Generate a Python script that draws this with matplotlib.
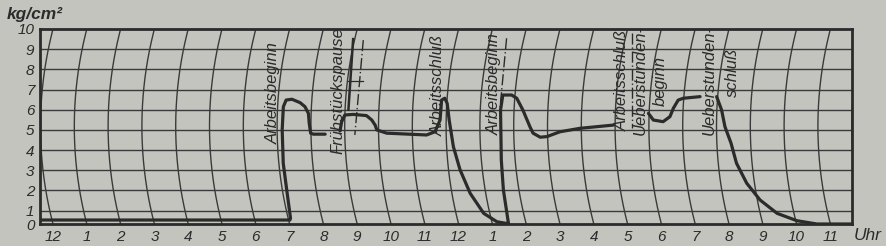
import numpy as np
import matplotlib
matplotlib.use('Agg')
import matplotlib.pyplot as plt

# Druckschreiber: Uhrzeit in Stunden ab Mitternacht, Druck in kg/cm2
t_morgen = [-0.6, 7.04, 7.07, 7.13, 7.13, 7.15, 7.17, 7.24, 7.41, 7.66, 7.81, 7.92, 7.95, 7.99, 8.07, 8.42]
p_morgen = [0.3, 0.3, 0.43, 2.03, 3.35, 5.0, 6.15, 6.48, 6.52, 6.35, 6.15, 5.82, 5.33, 4.84, 4.79, 4.79]

t_tag = [8.86, 8.91, 9.00, 9.25, 9.64, 9.80, 9.90, 9.95, 10.24, 11.42, 11.67, 11.82, 11.84, 11.93,
         12.01, 12.09, 12.20, 12.34, 12.54, 12.82, 13.15, 13.45, 13.48, 13.54, 13.59, 13.60, 13.64,
         13.90, 14.06, 14.26, 14.48, 14.57, 14.78, 14.98, 15.37, 15.96, 16.95]
p_tag = [4.95, 5.41, 5.74, 5.77, 5.71, 5.49, 5.24, 5.0, 4.84, 4.75, 4.91, 5.49, 6.48, 6.57,
         6.32, 5.49, 4.17, 3.03, 1.86, 0.80, 0.17, 0.03, 0.05, 2.03, 3.51, 5.99, 6.73,
         6.73, 6.57, 5.99, 5.16, 4.84, 4.64, 4.67, 4.91, 5.08, 5.24]

t_ueber = [17.98, 18.13, 18.42, 18.62, 18.71, 18.84, 18.99, 19.48]
p_ueber = [5.82, 5.49, 5.41, 5.66, 6.07, 6.48, 6.57, 6.65]

t_abend = [19.97, 20.14, 20.25, 20.42, 20.54, 20.77, 21.08, 21.50, 22.03, 22.6, 24.5]
p_abend = [6.65, 5.99, 5.16, 4.34, 3.35, 2.36, 1.53, 0.80, 0.25, 0.0, 0.0]

stunden = list(range(24))
stunden_text = ['12'] + [str(h) for h in range(1, 12)] + ['12'] + [str(h) for h in range(1, 12)]
druck_ticks = list(range(11))

papier = '#c4c4bf'
tinte = '#2b2b2b'
schrift = ['Liberation Sans Narrow', 'Liberation Sans', 'DejaVu Sans']


def pos(p):
    # Skala ist unter 1 kg/cm2 gestaucht
    p = np.asarray(p, float)
    return np.where(p >= 1, p, 1 - (1 - p) * 0.66)


def inv(u):
    u = np.asarray(u, float)
    return np.where(u >= 1, u, 1 - (1 - u) / 0.66)


def bogen(p):
    # Zeitlinien sind Kreisbogen (Schreibarm)
    b = (pos(p) - pos(0)) * 20.19
    r = (97.5 ** 2 + 12.5 ** 2) / 25
    return (np.sqrt(r ** 2 - (b - 97.5) ** 2) - (r - 12.5)) / 33.8


fig = plt.figure(figsize=(8.86, 2.46), dpi=100, facecolor=papier)
ax = fig.add_axes([40 / 886, 22 / 246, 812 / 886, 195 / 246], facecolor=papier)
ax.set_yscale('function', functions=(pos, inv))
ax.set_ylim(0, 10)
ax.set_xlim((40 - 53) / 33.8, (852 - 53) / 33.8)

# Raster
for k in range(1, 10):
    ax.axhline(k, color='#3a3a3a', lw=1.0, zorder=1)
pp = np.linspace(0, 10, 200)
for h in range(-1, 26):
    ax.plot(h - bogen(pp), pp, color='#3a3a3a', lw=1.0, zorder=1)

# Schreibspur
for t, p in [(t_morgen, p_morgen), (t_tag, p_tag), (t_ueber, p_ueber), (t_abend, p_abend)]:
    t = np.array(t)
    p = np.array(p)
    ax.plot(t - bogen(p), p, color=tinte, lw=2.3, zorder=3, solid_joinstyle='round', solid_capstyle='round')

# Markierungen
ax.plot([8.88, 8.74], [9.5, 6.0], color=tinte, lw=1.8, zorder=3)
ax.plot([9.18, 8.93], [9.45, 4.75], color=tinte, lw=1.0, ls=(0, (8, 2, 1, 2)), zorder=3)
ax.plot([8.73, 9.17], [7.4, 7.4], color=tinte, lw=0.9, zorder=3)
ax.plot([13.42, 13.22], [9.54, 5.99], color=tinte, lw=1.0, ls=(0, (8, 2, 1, 2)), zorder=3)
ax.plot([17.12, 17.12], [9.79, 5.08], color=tinte, lw=1.0, ls=(0, (8, 2, 1, 2)), zorder=3)

beschriftung = [
    ('Arbeitsbeginn', 6.51, 6.83),
    ('Frühstückspause', 8.43, 6.93),
    ('Arbeitsschluß', 11.39, 7.18),
    ('Arbeitsbeginn', 13.05, 7.28),
    ('Arbeitsschluß', 16.83, 7.47),
    ('Ueberstunden-', 17.37, 7.47),
    ('beginn', 17.96, 7.42),
    ('Ueberstunden-', 19.41, 7.47),
    ('schluß', 20.09, 7.87),
]
for txt, x, y in beschriftung:
    ax.text(x, y, txt, rotation=90, ha='center', va='center', fontsize=12,
            family=schrift, style='italic', color=tinte, zorder=4)

ax.set_xticks(stunden)
ax.set_xticklabels(stunden_text)
ax.set_yticks(druck_ticks)
ax.set_yticklabels([str(k) for k in druck_ticks])
ax.tick_params(length=0, colors=tinte)
ax.tick_params(axis='x', pad=4)
ax.tick_params(axis='y', pad=4)
for lab in ax.get_xticklabels() + ax.get_yticklabels():
    lab.set_family(schrift)
    lab.set_style('italic')
    lab.set_fontsize(11)

for s in ax.spines.values():
    s.set_linewidth(2.0)
    s.set_color(tinte)

fig.text(35 / 886, 1 - 14 / 246, 'kg/cm²', ha='center', va='center', fontsize=12.5,
         family=schrift, style='italic', weight='bold', color=tinte)
fig.text(868 / 886, 1 - 236 / 246, 'Uhr', ha='center', va='center', fontsize=12.5,
         family=schrift, style='italic', color=tinte)

fig.savefig('out.png', dpi=100, facecolor=papier)
